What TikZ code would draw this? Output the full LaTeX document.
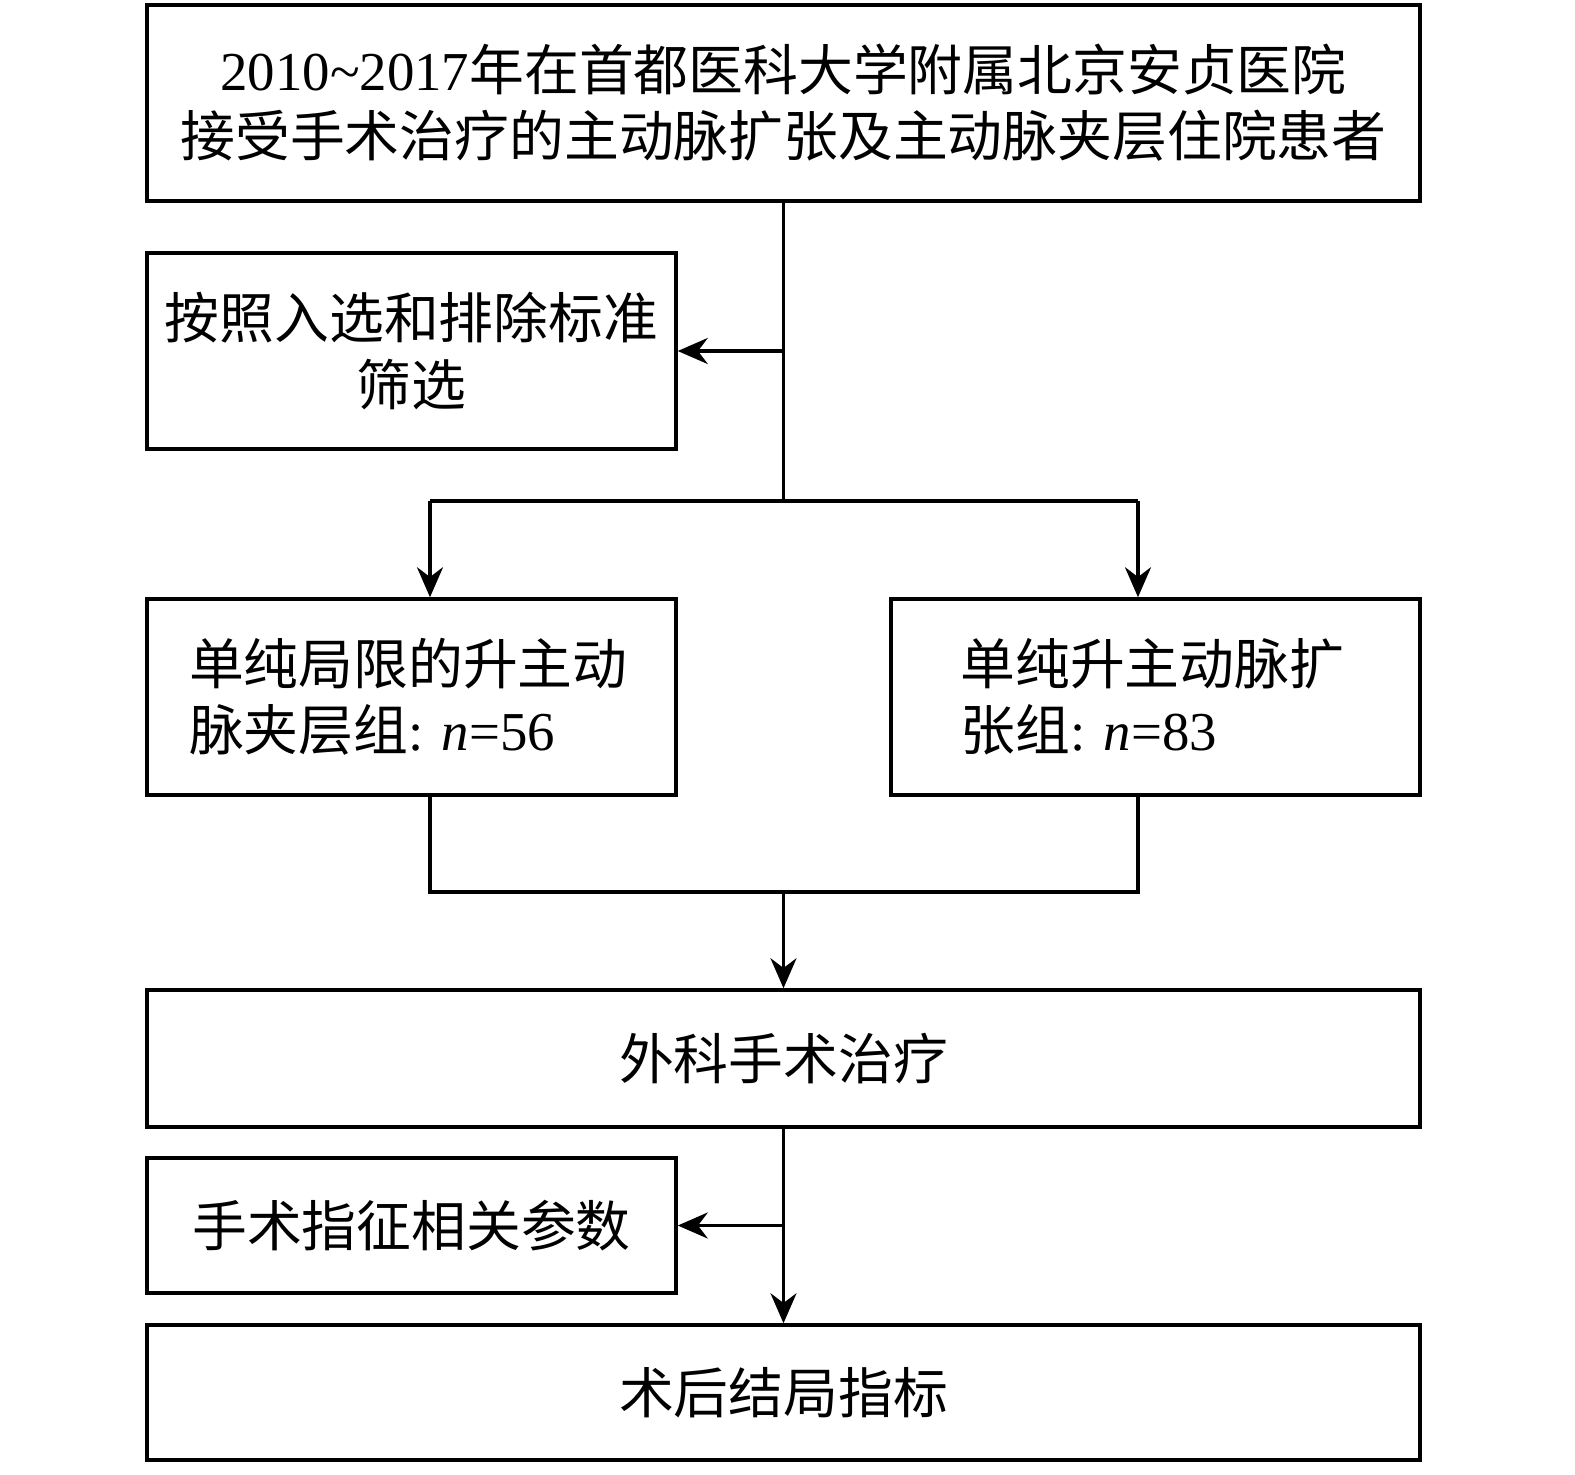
\documentclass[tikz,border=0pt]{standalone}
\usepackage{fontspec}
\setmainfont{Liberation Serif}
\newfontfamily\cjk{Noto Sans CJK SC}
\usetikzlibrary{arrows.meta}

\begin{document}
\begin{tikzpicture}[
	box/.style={draw, line width=1pt, inner sep=0pt, align=center,
		font=\cjk\fontsize{15.6}{18.8}\selectfont},
	link/.style={line width=1pt},
	arr/.style={line width=1pt, -{Stealth[length=3mm,width=2.6mm]}}
]
	\useasboundingbox (0,0) rectangle (15.75,-14.74);

	% boxes
	\node [box, minimum width=12.73cm, minimum height=1.96cm] (top) at (7.835,-1.03)
		{{\rmfamily 2010\textasciitilde 2017}年在首都医科大学附属北京安贞医院\\接受手术治疗的主动脉扩张及主动脉夹层住院患者};
	\node [box, minimum width=5.29cm, minimum height=1.96cm, text width=5.0cm] (screen) at (4.115,-3.51)
		{按照入选和排除标准\\筛选};
	\node [box, minimum width=5.29cm, minimum height=1.96cm, text width=4.45cm, align=left] (left) at (4.115,-6.97)
		{单纯局限的升主动\\脉夹层组{\rmfamily :\ \textit{n}=56}};
	\node [box, minimum width=5.29cm, minimum height=1.96cm, text width=3.9cm, align=left] (right) at (11.555,-6.97)
		{单纯升主动脉扩\\张组{\rmfamily :\ \textit{n}=83}};
	\node [box, minimum width=12.73cm, minimum height=1.37cm] (surgery) at (7.835,-10.585)
		{外科手术治疗};
	\node [box, minimum width=5.29cm, minimum height=1.35cm] (params) at (4.115,-12.255)
		{手术指征相关参数};
	\node [box, minimum width=12.73cm, minimum height=1.35cm] (outcome) at (7.835,-13.925)
		{术后结局指标};

	% split and join points
	\coordinate (split) at (7.835,-5.01);
	\coordinate (lsplit) at (4.30,-5.01);
	\coordinate (rsplit) at (11.38,-5.01);
	\coordinate (ljoin) at (4.30,-8.92);
	\coordinate (rjoin) at (11.38,-8.92);
	\coordinate (join) at (7.835,-8.92);

	% connectors
	\draw [link] (top.south) -- (split);
	\draw [arr] (top.south |- screen.east) -- (screen.east);
	\draw [link] (lsplit) -- (rsplit);
	\draw [arr] (lsplit) -- (lsplit |- left.north);
	\draw [arr] (rsplit) -- (rsplit |- right.north);
	\draw [link] (ljoin |- left.south) -- (ljoin) -- (rjoin) -- (rjoin |- right.south);
	\draw [arr] (join) -- (surgery.north);
	\draw [arr] (surgery.south) -- (outcome.north);
	\draw [arr] (surgery.south |- params.east) -- (params.east);
\end{tikzpicture}
\end{document}
